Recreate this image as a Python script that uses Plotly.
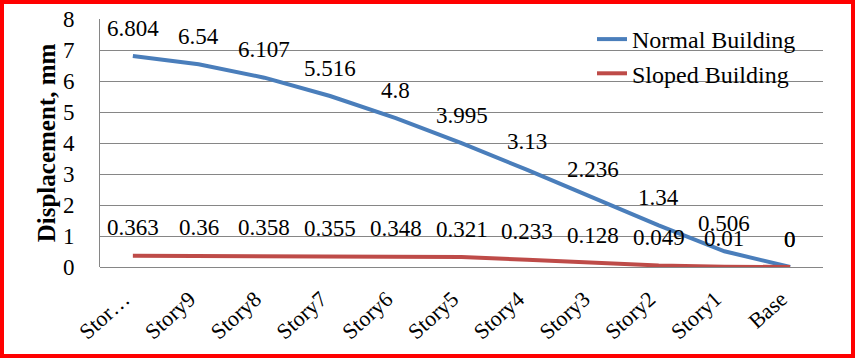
import plotly.graph_objects as go

categories = ["Stor…", "Story9", "Story8", "Story7", "Story6", "Story5",
              "Story4", "Story3", "Story2", "Story1", "Base"]
normal = [6.804, 6.54, 6.107, 5.516, 4.8, 3.995, 3.13, 2.236, 1.34, 0.506, 0]
sloped = [0.363, 0.36, 0.358, 0.355, 0.348, 0.321, 0.233, 0.128, 0.049, 0.01, 0]
y_ticks = [0, 1, 2, 3, 4, 5, 6, 7, 8]

W, H = 855, 358
ML, MR, MT, MB = 100, 32, 19, 91
PW, PH = W - ML - MR, H - MT - MB
FONT = "Liberation Serif"

fig = go.Figure()
fig.add_trace(go.Scatter(x=categories, y=normal, mode="lines", name="Normal Building",
                         line=dict(color="#4a7ebb", width=4)))
fig.add_trace(go.Scatter(x=categories, y=sloped, mode="lines", name="Sloped Building",
                         line=dict(color="#be4b48", width=4)))

for series in (normal, sloped):
    for c, v in zip(categories, series):
        fig.add_annotation(x=c, y=v, text=f"{v:g}", showarrow=False, yshift=28,
                           font=dict(family=FONT, size=23, color="black"))

def px2x(px):
    return (px - ML) / PW

def py2y(py):
    return (H - MB - py) / PH

fig.add_shape(type="rect", xref="paper", yref="paper",
              x0=px2x(2), x1=px2x(W - 2), y0=py2y(H - 2), y1=py2y(2),
              line=dict(color="#ff0000", width=4), layer="above")

fig.update_layout(
    width=W, height=H,
    margin=dict(l=ML, r=MR, t=MT, b=MB, autoexpand=False),
    paper_bgcolor="white", plot_bgcolor="white",
    font=dict(family=FONT, size=22, color="black"),
    showlegend=True,
    legend=dict(x=px2x(592), y=py2y(17), xanchor="left", yanchor="top",
                bgcolor="rgba(0,0,0,0)", font=dict(family=FONT, size=24),
                tracegroupgap=0),
)
fig.update_xaxes(type="category", range=[-0.5, 10.5], tickangle=-42,
                 showgrid=False, showline=False, ticks="", automargin=False,
                 ticklabelstandoff=14, ticklabelshift=-9,
                 tickfont=dict(family=FONT, size=22))
fig.update_yaxes(range=[0, 8], tickvals=y_ticks, showgrid=True, gridcolor="#868686",
                 gridwidth=1, zeroline=True, zerolinecolor="#868686", zerolinewidth=1,
                 showline=True, linecolor="#868686", linewidth=1, ticks="",
                 automargin=False, ticklabelstandoff=20,
                 tickfont=dict(family=FONT, size=23),
                 title=dict(text="<b>Displacement, mm</b>", font=dict(family=FONT, size=25),
                            standoff=0))

fig.write_html("out.html", config={"displayModeBar": False},
               post_script="document.body.style.margin='0';document.body.style.padding='0';")
